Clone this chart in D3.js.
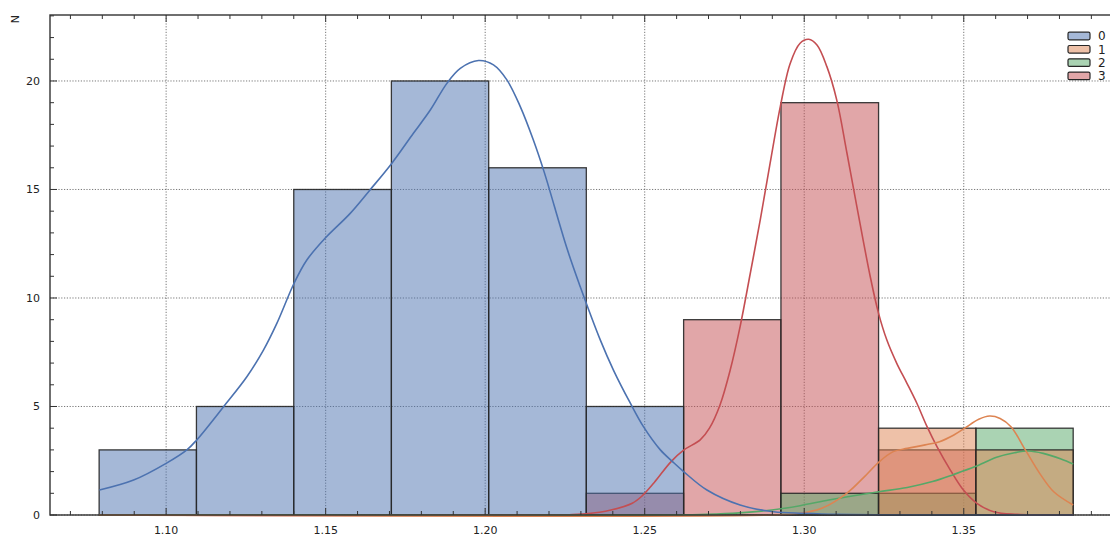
<!DOCTYPE html>
<html>
<head>
<meta charset="utf-8">
<script src="https://cdn.jsdelivr.net/npm/d3@7"></script>
<style>
  html, body { margin: 0; padding: 0; background: #fff; }
  svg { display: block; font-family: "DejaVu Sans", sans-serif; }
</style>
</head>
<body>
<svg id="chart" width="1110" height="550"></svg>
<script>
// Histogram bins (shared by all groups)
const binEdges = [1.0790, 1.1095, 1.1400, 1.1706, 1.2011, 1.2317, 1.2622, 1.2927, 1.3233, 1.3538, 1.3843];

// Counts per bin for each group
const groups = ["0", "1", "2", "3"];
const counts0 = [3, 5, 15, 20, 16, 5, 0, 0, 0, 0];
const counts1 = [0, 0, 0, 0, 0, 0, 0, 0, 4, 3];
const counts2 = [0, 0, 0, 0, 0, 0, 0, 1, 1, 4];
const counts3 = [0, 0, 0, 0, 0, 1, 9, 19, 3, 0];

// Density curves (scaled to counts), [x, N]
const kde0 = [[1.0791,1.15],[1.0898,1.61],[1.1000,2.38],[1.1065,3.0],[1.1096,3.46],[1.1180,4.99],
  [1.1253,6.37],[1.1305,7.60],[1.1347,8.83],[1.1401,10.68],[1.1441,11.75],[1.1498,12.75],
  [1.1577,13.90],[1.1639,14.98],[1.1707,16.2],[1.1775,17.59],[1.1828,18.66],
  [1.1880,19.89],[1.1922,20.58],[1.1979,20.94],[1.2026,20.74],[1.2068,20.05],[1.2110,18.82],
  [1.2151,17.28],[1.2185,15.80],[1.2256,12.30],[1.2298,10.52],
  [1.2361,8.06],[1.2402,6.68],[1.2455,5.15],[1.2496,4.07],[1.2549,3.0],[1.2588,2.45],
  [1.2622,2.0],[1.2695,1.15],[1.2799,0.46],[1.2904,0.15],[1.2998,0.08],[1.3100,0.03],
  [1.3250,0.01],[1.3843,0.0]];
const kde1 = [[1.0790,0],[1.2900,0],[1.2987,0.08],[1.3055,0.31],[1.3133,1.0],[1.3189,1.77],
  [1.3234,2.44],[1.3279,2.92],[1.3323,3.07],[1.3379,3.23],[1.3424,3.38],[1.3469,3.69],
  [1.3503,4.0],[1.3547,4.41],[1.3581,4.56],[1.3614,4.45],[1.3648,4.07],[1.3693,3.0],
  [1.3738,1.92],[1.3782,1.07],[1.3843,0.46]];
const kde2 = [[1.0790,0],[1.2600,0],[1.2696,0.03],[1.2797,0.1],[1.2898,0.23],[1.2987,0.43],
  [1.3077,0.69],[1.3160,0.9],[1.3234,1.07],[1.3323,1.27],[1.3402,1.54],[1.3469,1.87],
  [1.3536,2.23],[1.3603,2.66],[1.3659,2.87],[1.3704,2.95],[1.3749,2.84],[1.3805,2.58],
  [1.3843,2.35]];
const kde3 = [[1.0790,0],[1.2250,0],[1.2316,0.05],[1.2394,0.23],[1.2461,0.54],[1.2492,0.88],
  [1.2530,1.5],[1.2582,2.45],[1.2623,3.0],[1.2674,3.46],[1.2703,4.0],[1.2736,5.07],
  [1.2768,6.68],[1.2799,8.68],[1.2831,11.14],[1.2862,13.59],[1.2893,16.2],[1.2925,18.82],
  [1.2956,20.81],[1.2987,21.74],[1.3014,21.92],[1.3040,21.66],[1.3071,20.66],[1.3102,19.12],
  [1.3134,16.67],[1.3165,14.21],[1.3207,10.98],[1.3233,9.29],[1.3259,8.06],[1.3290,6.99],
  [1.3322,6.07],[1.3353,5.15],[1.3385,4.07],[1.3416,3.15],[1.3458,2.07],[1.3499,1.15],
  [1.3541,0.54],[1.3594,0.15],[1.3667,0.03],[1.3843,0]];

// Tick values
const xMajorTicks = [1.10, 1.15, 1.20, 1.25, 1.30, 1.35];
const xTickLabels = ["1.10", "1.15", "1.20", "1.25", "1.30", "1.35"];
const yMajorTicks = [0, 5, 10, 15, 20];

const palette = ["#4c72b0", "#dd8452", "#55a868", "#c44e52"];
const allCounts = [counts0, counts1, counts2, counts3];
const allKde = [kde0, kde1, kde2, kde3];

const svg = d3.select("#chart");
const plotL = 50, plotR = 1122, plotT = 15, plotB = 515;

const x = d3.scaleLinear().domain([1.0636, 1.3996]).range([plotL, plotR]);
const y = d3.scaleLinear().domain([0, 23.04]).range([plotB, plotT]);

const xMinor = d3.range(107, 140).map(v => v / 100);
const yMinor = d3.range(0, 24);

// grid
const grid = svg.append("g");
grid.selectAll("line.gx").data(xMajorTicks).join("line")
  .attr("x1", d => x(d)).attr("x2", d => x(d)).attr("y1", plotT).attr("y2", plotB)
  .attr("stroke", "#555").attr("stroke-width", 0.8).attr("stroke-dasharray", "1.2,1.6");
grid.selectAll("line.gy").data(yMajorTicks).join("line")
  .attr("x1", plotL).attr("x2", plotR).attr("y1", d => y(d)).attr("y2", d => y(d))
  .attr("stroke", "#555").attr("stroke-width", 0.8).attr("stroke-dasharray", "1.2,1.6");

// bars: drawn last group first so group 0 ends on top
const bars = svg.append("g");
for (let g = groups.length - 1; g >= 0; g--) {
  const data = allCounts[g].map((c, i) => ({ x0: binEdges[i], x1: binEdges[i + 1], c }));
  bars.append("g").selectAll("rect").data(data).join("rect")
    .attr("x", d => x(d.x0)).attr("width", d => x(d.x1) - x(d.x0))
    .attr("y", d => y(d.c)).attr("height", d => y(0) - y(d.c))
    .attr("fill", palette[g]).attr("fill-opacity", 0.5)
    .attr("stroke", "#262626").attr("stroke-opacity", 0.9).attr("stroke-width", 1.3);
}

// density lines
const line = d3.line().x(d => x(d[0])).y(d => y(Math.max(0, d[1])))
  .curve(d3.curveCatmullRom.alpha(0.5));
for (let g = groups.length - 1; g >= 0; g--) {
  svg.append("path").datum(allKde[g]).attr("d", line)
    .attr("fill", "none").attr("stroke", palette[g]).attr("stroke-width", 1.6);
}

// spines
svg.append("rect").attr("x", plotL).attr("y", plotT)
  .attr("width", plotR - plotL).attr("height", plotB - plotT)
  .attr("fill", "none").attr("stroke", "#333").attr("stroke-width", 1.4);

// ticks (inward)
const ticks = svg.append("g").attr("stroke", "#333").attr("stroke-width", 1);
const isMajorX = v => xMajorTicks.some(t => Math.abs(t - v) < 1e-6);
ticks.selectAll("line.xb").data(xMinor).join("line")
  .attr("x1", d => x(d)).attr("x2", d => x(d))
  .attr("y1", plotB).attr("y2", d => plotB - (isMajorX(d) ? 7 : 4));
ticks.selectAll("line.xt").data(xMinor).join("line")
  .attr("x1", d => x(d)).attr("x2", d => x(d))
  .attr("y1", plotT).attr("y2", d => plotT + (isMajorX(d) ? 7 : 4));
ticks.selectAll("line.yl").data(yMinor).join("line")
  .attr("y1", d => y(d)).attr("y2", d => y(d))
  .attr("x1", plotL).attr("x2", d => plotL + (d % 5 === 0 ? 7 : 4));

// tick labels
svg.append("g").selectAll("text").data(xMajorTicks).join("text")
  .attr("x", d => x(d)).attr("y", 534).attr("text-anchor", "middle")
  .attr("font-size", 11).attr("fill", "#222").text((d, i) => xTickLabels[i]);
svg.append("g").selectAll("text").data(yMajorTicks).join("text")
  .attr("x", 40).attr("y", d => y(d)).attr("dy", "0.36em").attr("text-anchor", "end")
  .attr("font-size", 11).attr("fill", "#222").text(d => d);

// axis label
svg.append("text").attr("transform", `translate(19,${plotT}) rotate(-90)`)
  .attr("text-anchor", "end").attr("font-size", 11).attr("fill", "#222").text("N");

// legend
const legend = svg.append("g");
groups.forEach((gname, i) => {
  const ly = 36 + i * 13.3;
  legend.append("rect").attr("x", 1068).attr("y", ly - 3.8).attr("width", 22).attr("height", 7.6)
    .attr("rx", 1.5).attr("fill", palette[i]).attr("fill-opacity", 0.5)
    .attr("stroke", "#262626").attr("stroke-width", 1.2);
  legend.append("text").attr("x", 1098).attr("y", ly).attr("dy", "0.36em")
    .attr("font-size", 12).attr("fill", "#222").text(gname);
});
</script>
</body>
</html>
